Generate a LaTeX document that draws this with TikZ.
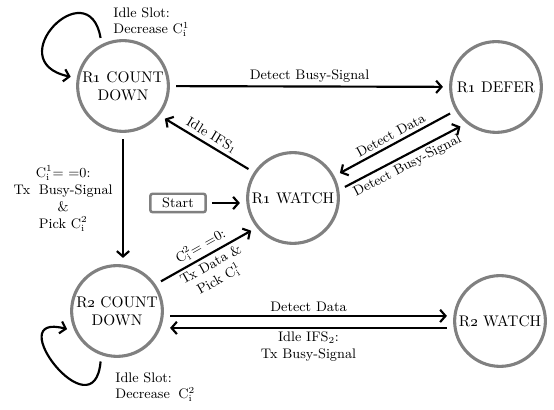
\documentclass[tikz,border=0pt]{standalone}
\usepackage{tikz}
\usetikzlibrary{arrows.meta,positioning,shadows}

\begin{document}
\begin{tikzpicture}[x=0.65pt, y=0.65pt,
    state/.style={circle, draw=gray, line width=2pt, fill=white, minimum size=59pt, inner sep=0pt, align=center, outer sep=5pt, drop shadow={opacity=0.25, shadow xshift=0.8pt, shadow yshift=-0.8pt}},
    startbox/.style={rectangle, rounded corners=1.5pt, draw=gray, line width=1.6pt, fill=white, minimum width=36pt, minimum height=12pt, inner sep=1pt, outer sep=4pt, font=\small, drop shadow={opacity=0.25, shadow xshift=0.6pt, shadow yshift=-0.6pt}},
    trans/.style={-{Straight Barb[length=3.5pt, width=8pt]}, line width=1.4pt},
    lbl/.style={font=\small, align=center, inner sep=2pt}]

    \useasboundingbox (0,0) rectangle (554,410);

    % states
    \node[state] (cd1) at (123,324) {R\oldstylenums{1} COUNT\\DOWN};
    \node[state] (defer) at (496,323) {R\oldstylenums{1} DEFER};
    \node[state] (w1) at (293,212) {R\oldstylenums{1} WATCH};
    \node[state] (cd2) at (117,99) {R\oldstylenums{2} COUNT\\DOWN};
    \node[state] (w2) at (500,89) {R\oldstylenums{2} WATCH};
    \node[startbox] (start) at (178,207) {Start};

    % self loops
    \draw[trans] (cd1.115) to[out=100, in=168, out distance=45pt, in distance=48pt] (cd1.170);
    \draw[trans] (cd2.252) to[out=265, in=165, out distance=48pt, in distance=46pt] (cd2.200);
    \node[lbl, anchor=west, align=left] (loop1) at (110,388) {Idle Slot:\\Decrease C$_\mathrm{i}^1$};
    \node[lbl, anchor=west, align=left] (loop2) at (112,23) {Idle Slot:\\Decrease\; C$_\mathrm{i}^2$};

    % transitions
    \draw[trans] (cd1) -- node[lbl, above] {Detect Busy-Signal} (defer);
    \draw[trans] (w1.147) -- node[lbl, above, sloped] {Idle IFS$_1$} (cd1.-38);
    \draw[trans] (defer.210) -- node[lbl, above, sloped] {Detect Data} (w1.28);
    \draw[trans] (w1.12) -- node[lbl, below, sloped] {Detect Busy-Signal} (defer.228);
    \draw[trans] (start) -- (start -| w1.west);
    \draw[trans] (cd1) -- node[lbl, left=4pt] {C$_\mathrm{i}^1$= =0:\\Tx\; Busy-Signal\\\&\\Pick C$_\mathrm{i}^2$} (cd1 |- cd2.north);
    \draw[trans] (cd2.34) -- node[lbl, above, sloped] {C$_\mathrm{i}^2$= =0:} node[lbl, below, sloped] {Tx Data \&\\Pick C$_\mathrm{i}^1$} (w1.218);
    \draw[trans] ([yshift=-3.2pt]cd2.east) -- node[lbl, above] {Detect Data} ([yshift=-3.2pt]cd2.east -| w2.west);
    \draw[trans] ([yshift=-11pt]cd2.east -| w2.west) -- node[lbl, below] {Idle IFS$_2$:\\Tx Busy-Signal} ([yshift=-11pt]cd2.east);

\end{tikzpicture}
\end{document}
